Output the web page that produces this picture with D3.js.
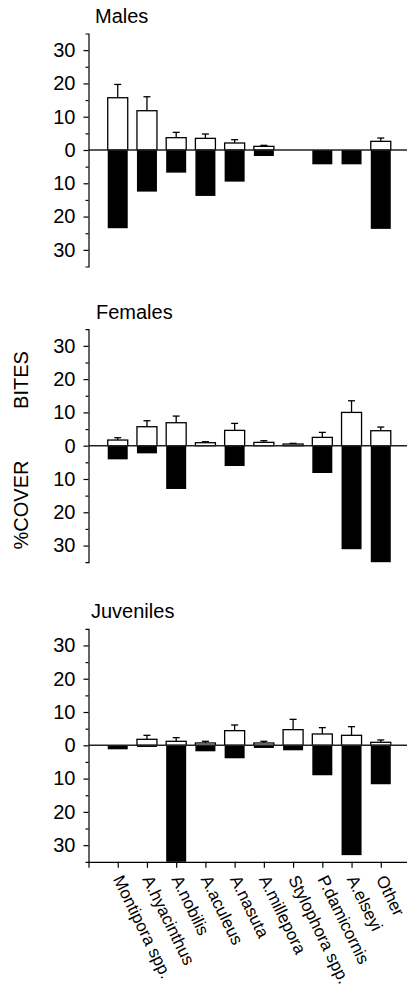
<!DOCTYPE html>
<html>
<head>
<meta charset="utf-8">
<script src="https://cdnjs.cloudflare.com/ajax/libs/d3/7.8.5/d3.min.js"></script>
<style>
  html, body { margin: 0; padding: 0; background: #fff; }
  svg { display: block; font-family: "Liberation Sans", Arial, Helvetica, sans-serif; }
</style>
</head>
<body>
<svg id="chart" width="407" height="989"></svg>
<script>
// ---- data ----
const categories = ["Montipora spp.", "A.hyacinthus", "A.nobilis", "A.aculeus", "A.nasuta",
  "A.millepora", "Stylophora spp.", "P.damicornis", "A.elseyi", "Other"];
const panelTitles = ["Males", "Females", "Juveniles"];
const yTickValues = [-30, -20, -10, 0, 10, 20, 30];
const yMinorTickValues = [-25, -15, -5, 5, 15, 25];

// bites (upper, white bars) with standard errors; % cover (lower, black bars)
const malesBites     = [15.7, 11.8, 3.7, 3.5, 2.1, 1.1, 0, 0, 0, 2.6];
const malesBitesSE   = [4.0, 4.2, 1.6, 1.3, 1.0, 0.3, 0, 0, 0, 1.0];
const malesCover     = [23.5, 12.5, 6.8, 13.8, 9.5, 1.8, 0, 4.3, 4.3, 23.7];

const femalesBites   = [1.7, 5.7, 6.9, 0.9, 4.6, 1.0, 0.5, 2.5, 10.0, 4.5];
const femalesBitesSE = [0.7, 1.8, 2.0, 0.3, 2.1, 0.5, 0.2, 1.5, 3.5, 1.1];
const femalesCover   = [4.1, 2.3, 13.0, 0, 6.1, 0, 0, 8.2, 31.1, 35.0];

const juvBites       = [0, 1.8, 1.2, 0.7, 4.4, 0.7, 4.7, 3.4, 3.0, 0.9];
const juvBitesSE     = [0, 1.2, 1.1, 0.5, 1.7, 0.5, 3.1, 1.9, 2.6, 0.7];
const juvCover       = [1.2, 0.5, 35.0, 1.8, 3.9, 0.8, 1.5, 9.0, 33.0, 11.7];

const panels = [
  { title: panelTitles[0], bites: malesBites, se: malesBitesSE, cover: malesCover, zero: 150, titleX: 95 },
  { title: panelTitles[1], bites: femalesBites, se: femalesBitesSE, cover: femalesCover, zero: 445.7, titleX: 96 },
  { title: panelTitles[2], bites: juvBites, se: juvBitesSE, cover: juvCover, zero: 745.3, titleX: 91 }
];

// ---- layout ----
const svg = d3.select("#chart");
const axisX = 88.5;
const x = d3.scaleLinear().domain([0, 11]).range([axisX, 410]);
const barW = 20;
const half = 116.5;

panels.forEach((p, pi) => {
  const y = d3.scaleLinear().domain([-35, 35]).range([p.zero + half, p.zero - half]);
  const g = svg.append("g");

  // title
  g.append("text").attr("x", p.titleX).attr("y", p.zero - 127)
    .attr("font-size", 20).attr("fill", "#000").text(p.title);

  // y axis
  const ya = g.append("g").attr("transform", `translate(${axisX},0)`)
    .call(d3.axisLeft(y).tickValues(yTickValues).tickSize(5).tickSizeOuter(3).tickPadding(8)
      .tickFormat(d => Math.abs(d)));
  ya.selectAll("text").attr("font-size", 20).attr("fill", "#000")
    .attr("font-family", "Liberation Sans, Arial, sans-serif");
  ya.selectAll("path,line").attr("stroke", "#000").attr("stroke-width", 1.2);

  const ym = g.append("g").attr("transform", `translate(${axisX},0)`)
    .call(d3.axisLeft(y).tickValues(yMinorTickValues).tickSize(3).tickFormat(""));
  ym.select(".domain").remove();
  ym.selectAll("line").attr("stroke", "#000").attr("stroke-width", 1.2);

  const idx = d3.range(categories.length);

  // cover bars (black, downward)
  g.selectAll("rect.cover").data(idx.filter(i => p.cover[i] > 0)).join("rect")
    .attr("class", "cover")
    .attr("x", i => x(i + 1) - barW / 2)
    .attr("width", barW)
    .attr("y", y(0))
    .attr("height", i => y(-p.cover[i]) - y(0))
    .attr("fill", "#000");

  // error bars
  const eb = idx.filter(i => p.bites[i] > 0 && p.se[i] > 0);
  g.selectAll("line.err").data(eb).join("line")
    .attr("class", "err")
    .attr("x1", i => x(i + 1)).attr("x2", i => x(i + 1))
    .attr("y1", i => y(p.bites[i])).attr("y2", i => y(p.bites[i] + p.se[i]))
    .attr("stroke", "#000").attr("stroke-width", 1.3);
  g.selectAll("line.cap").data(eb).join("line")
    .attr("class", "cap")
    .attr("x1", i => x(i + 1) - 3.5).attr("x2", i => x(i + 1) + 3.5)
    .attr("y1", i => y(p.bites[i] + p.se[i])).attr("y2", i => y(p.bites[i] + p.se[i]))
    .attr("stroke", "#000").attr("stroke-width", 1.3);

  // bites bars (white, upward)
  g.selectAll("rect.bites").data(idx.filter(i => p.bites[i] > 0)).join("rect")
    .attr("class", "bites")
    .attr("x", i => x(i + 1) - barW / 2)
    .attr("width", barW)
    .attr("y", i => y(p.bites[i]))
    .attr("height", i => y(0) - y(p.bites[i]))
    .attr("fill", "#fff").attr("stroke", "#000").attr("stroke-width", 1.3);

  // zero line
  g.append("line").attr("x1", axisX).attr("x2", 407)
    .attr("y1", y(0)).attr("y2", y(0))
    .attr("stroke", "#222").attr("stroke-width", 1.5);

  // bottom category axis on the last panel
  if (pi === panels.length - 1) {
    const xa = g.append("g").attr("transform", `translate(0,${y(-35)})`)
      .call(d3.axisBottom(x).tickValues(d3.range(0, 11)).tickSize(6).tickSizeOuter(0).tickFormat(""));
    xa.selectAll("path,line").attr("stroke", "#000").attr("stroke-width", 1.2);

    g.selectAll("text.cat").data(idx).join("text")
      .attr("class", "cat")
      .attr("transform", i => `translate(${x(i + 1) - 5},879) rotate(64)`)
      .attr("font-size", 17).attr("fill", "#000")
      .text(i => categories[i]);
  }
});

// y-axis titles
svg.append("text").attr("transform", "translate(28,380) rotate(-90)")
  .attr("text-anchor", "middle").attr("font-size", 20).attr("fill", "#000").text("BITES");
svg.append("text").attr("transform", "translate(28,505) rotate(-90)")
  .attr("text-anchor", "middle").attr("font-size", 20).attr("fill", "#000").text("%COVER");
</script>
</body>
</html>
